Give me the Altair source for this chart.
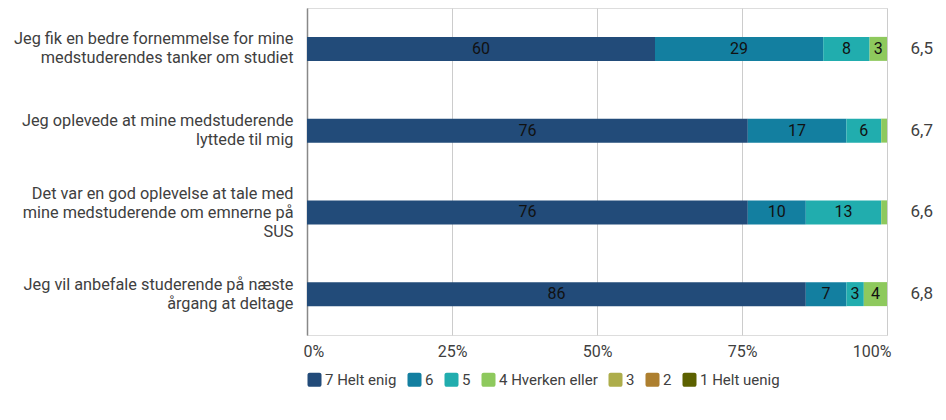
import altair as alt
import pandas as pd

categories = [
    "Jeg fik en bedre fornemmelse for mine|medstuderendes tanker om studiet",
    "Jeg oplevede at mine medstuderende|lyttede til mig",
    "Det var en god oplevelse at tale med|mine medstuderende om emnerne på|SUS",
    "Jeg vil anbefale studerende på næste|årgang at deltage",
]
responses = ["7 Helt enig", "6", "5", "4 Hverken eller", "3", "2", "1 Helt uenig"]
colors = ["#224b79", "#137fa0", "#21adae", "#8ec95d", "#adad4b", "#ad7f2f", "#5c6100"]

s7 = [60, 76, 76, 86]
s6 = [29, 17, 10, 7]
s5 = [8, 6, 13, 3]
s4 = [3, 1, 1, 4]
s3 = [0, 0, 0, 0]
s2 = [0, 0, 0, 0]
s1 = [0, 0, 0, 0]
means = ["6,5", "6,7", "6,6", "6,8"]

series = [s7, s6, s5, s4, s3, s2, s1]
rows = []
for rank, (resp, vals) in enumerate(zip(responses, series)):
    for cat, v in zip(categories, vals):
        rows.append({"cat": cat, "resp": resp, "rank": rank, "value": v})
df = pd.DataFrame(rows)
mdf = pd.DataFrame({"cat": categories, "mean": means})

FONT = "Roboto"
ycat = alt.Y(
    "cat:N",
    sort=categories,
    scale=alt.Scale(paddingOuter=0, paddingInner=0),
    axis=alt.Axis(
        title=None, domain=True, domainColor="#888888", domainWidth=1.5,
        ticks=False, labelFontSize=16.3, labelPadding=14, labelLimit=400,
        labelColor="#404040", labelLineHeight=19, labelFont=FONT,
        labelExpr="split(datum.label, '|')", grid=False,
        labelOffset={
            "condition": {"test": "length(split(datum.label, '|')) >= 3", "value": -18},
            "value": -9.5,
        },
    ),
)
xscale = alt.Scale(domain=[0, 1])

base = alt.Chart(df).transform_stack(
    stack="value", groupby=["cat"], as_=["v0", "v1"],
    sort=[alt.SortField("rank", order="ascending")],
).transform_calculate(
    x0="datum.v0 / 100", x1="datum.v1 / 100", xm="(datum.v0 + datum.v1) / 200"
)

bars = base.mark_bar(size=24).encode(
    y=ycat,
    x=alt.X(
        "x0:Q", scale=xscale,
        axis=alt.Axis(
            title=None, format=".0%", values=[0, 0.25, 0.5, 0.75, 1],
            grid=True, gridColor="#cccccc", domain=False, ticks=False,
            labelFontSize=16, labelColor="#404040", labelPadding=8, labelFont=FONT,
            labelFlushOffset=4,
        ),
    ),
    x2="x1:Q",
    color=alt.Color(
        "resp:N",
        scale=alt.Scale(domain=responses, range=colors),
        legend=alt.Legend(
            title=None, orient="none", legendX=0, legendY=364,
            direction="horizontal", columns=7,
            symbolType="M -0.7 -1 H 0.7 A 0.3 0.3 0 0 1 1 -0.7 V 0.7 A 0.3 0.3 0 0 1 0.7 1 H -0.7 A 0.3 0.3 0 0 1 -1 0.7 V -0.7 A 0.3 0.3 0 0 1 -0.7 -1 Z",
            symbolSize=196, symbolStrokeWidth=0, labelFontSize=15, labelColor="#404040",
            labelFont=FONT, labelOffset=3, columnPadding=10,
        ),
    ),
    order=alt.Order("rank:Q"),
)

labels = base.transform_filter("datum.value >= 3").mark_text(
    fontSize=16, font=FONT, color="#111111", baseline="middle"
).encode(
    y=alt.Y("cat:N", sort=categories),
    x=alt.X("xm:Q", scale=xscale),
    text="value:Q",
)

meantext = alt.Chart(mdf).mark_text(
    fontSize=17, font=FONT, color="#404040", baseline="middle", align="center"
).encode(
    y=alt.Y("cat:N", sort=categories),
    x=alt.datum(1.06),
    text="mean:N",
)

chart = alt.layer(bars, labels, meantext).properties(
    width=580, height=327,
    autosize=alt.AutoSizeParams(type="none"),
    padding={"left": 299, "top": 0, "right": 51, "bottom": 70},
).configure_view(stroke=None).configure(font=FONT)

chart.save("out.html", embed_options={"renderer": "svg", "actions": False})
